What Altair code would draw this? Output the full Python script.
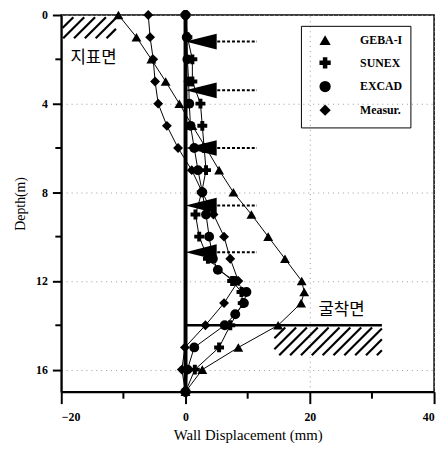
import altair as alt
import pandas as pd

# ---------------- data ----------------
series_names = ["GEBA-I", "SUNEX", "EXCAD", "Measur."]
series_shapes = ["triangle-up", "cross", "circle", "diamond"]

geba_depth = [0, 1, 2, 3, 4, 5, 6, 7, 8, 9, 10, 11, 12, 12.5, 13, 14, 15, 16, 17]
geba_disp = [-10.8, -7.9, -5.5, -3.2, -1.0, 1.1, 3.3, 5.4, 7.7, 10.6, 13.3, 16.0, 18.7, 19.1, 18.6, 14.9, 8.5, 2.7, 0]

sunex_depth = [0, 1, 2, 3, 4, 5, 6, 7, 8, 9, 10, 11, 12, 12.5, 13, 14, 15, 16, 17]
sunex_disp = [0, 0.3, 1.1, 1.1, 2.4, 2.7, 3.0, 3.3, 2.6, 1.6, 2.2, 3.6, 7.5, 9.0, 9.2, 7.2, 5.4, 1.5, 0]

excad_depth = [0, 1, 2, 3, 4, 5, 6, 7, 8, 9, 10, 11, 11.5, 12, 12.5, 13, 13.5, 14, 15, 16, 17]
excad_disp = [0, 0.2, 0.3, 0.5, 0.6, 0.8, 1.4, 2.0, 2.7, 3.3, 3.8, 4.4, 5.2, 8.0, 9.8, 9.4, 8.0, 6.3, 1.4, 0.3, 0]

meas_depth = [0, 1, 2, 3, 4, 5, 6, 7, 8, 9, 10, 11, 12, 13, 14, 15, 16, 17]
meas_disp = [-6.0, -5.7, -5.2, -4.9, -4.4, -3.0, -1.2, 1.0, 2.7, 4.5, 6.2, 7.2, 8.5, 6.2, 3.2, -0.1, -0.6, 0]

strut_depth = [1.2, 3.4, 6.0, 8.6, 10.7]
strut_wedge_x = 2.5
strut_dash_from = 5.1
strut_dash_to = 11.5

wall_top, wall_bottom = 0, 17
excav_depth = 14
excav_right = 31.6

label_text = ["지표면", "굴착면"]
label_x = [-14.8, 25.1]
label_y = [1.95, 13.3]

# hatched zones (x0, x1, depth_top, depth_bottom)
hatch_zones = [(-19.8, -11.2, 0.1, 1.05), (14.3, 31.6, 14.1, 15.35)]

x_ticks = [-20, 0, 20, 40]
x_minor = [-10, 10, 30]
y_ticks = [0, 4, 8, 12, 16]
y_minor = [2, 6, 10, 14]

W, H = 378, 382
X_DOM = [-20, 40]
Y_DOM = [0, 17]
kx = W / (X_DOM[1] - X_DOM[0])
ky = H / (Y_DOM[1] - Y_DOM[0])

# ---------------- tables ----------------
rows = []
for name, ds, xs_ in [("GEBA-I", geba_depth, geba_disp), ("SUNEX", sunex_depth, sunex_disp),
                      ("EXCAD", excad_depth, excad_disp), ("Measur.", meas_depth, meas_disp)]:
    for i, (d, x) in enumerate(zip(ds, xs_)):
        rows.append({"series": name, "depth": d, "disp": x, "idx": i})
df = pd.DataFrame(rows)

struts = pd.DataFrame({"depth": strut_depth, "xw": strut_wedge_x,
                       "x0": strut_dash_from, "x1": strut_dash_to})

hatch = []
spacing = 11.0
for (x0, x1, dt, db) in hatch_zones:
    px0, px1 = x0 * kx, x1 * kx
    hh = (db - dt) * ky
    c = px0 - hh
    while c < px1:
        t0 = max(0.0, px0 - c)
        t1 = min(hh, px1 - c)
        if t1 > t0:
            hatch.append({"xa": (c + t0) / kx, "ya": db - t0 / ky,
                          "xb": (c + t1) / kx, "yb": db - t1 / ky})
        c += spacing
hatch_df = pd.DataFrame(hatch)

labels_df = pd.DataFrame({"t": label_text, "x": label_x, "y": label_y})

xs = alt.Scale(domain=X_DOM, nice=False, zero=False)
ys = alt.Scale(domain=Y_DOM, nice=False, reverse=True)

SERIF = "Liberation Serif"

x_axis = alt.Axis(values=x_ticks, title="Wall Displacement (mm)", tickSize=12, tickWidth=2,
                  domainWidth=2, domainColor="black", tickColor="black",
                  labelFont=SERIF, labelFontSize=12, labelFontWeight="bold", labelPadding=8,
                  labelColor="black", titleColor="black",
                  titleFont=SERIF, titleFontSize=15, titleFontWeight="normal", titlePadding=5,
                  grid=True, gridDash=[1, 4], gridColor="#999999", gridWidth=1)
y_axis = alt.Axis(values=y_ticks, title="Depth(m)", tickSize=9, tickWidth=2,
                  domainWidth=2, domainColor="black", tickColor="black",
                  labelFont=SERIF, labelFontSize=12, labelFontWeight="bold", labelPadding=5,
                  labelColor="black", titleColor="black",
                  titleFont=SERIF, titleFontSize=14, titleFontWeight="normal", titlePadding=8,
                  grid=True, gridDash=[1, 4], gridColor="#999999", gridWidth=1)


def X(f):
    return alt.X(f, scale=xs, axis=x_axis)


def Y(f):
    return alt.Y(f, scale=ys, axis=y_axis)


hatch_layer = alt.Chart(hatch_df).mark_rule(color="black", strokeWidth=2.2).encode(
    x=X("xa:Q"), x2="xb:Q", y=Y("ya:Q"), y2="yb:Q")

wall = alt.Chart(pd.DataFrame({"x": [0], "y0": [wall_top], "y1": [wall_bottom]})).mark_rule(
    color="black", strokeWidth=4).encode(x=X("x:Q"), y=Y("y0:Q"), y2="y1:Q")

excav = alt.Chart(pd.DataFrame({"x0": [0], "x1": [excav_right], "y": [excav_depth]})).mark_rule(
    color="black", strokeWidth=2.5).encode(x=X("x0:Q"), x2="x1:Q", y=Y("y:Q"))

strut_dash = alt.Chart(struts).mark_rule(color="black", strokeWidth=2, strokeDash=[3, 2]).encode(
    x=X("x0:Q"), x2="x1:Q", y=Y("depth:Q"))

strut_wedge = alt.Chart(struts).mark_point(
    shape="M-1,0L1,-0.5L1,0.5Z", filled=True, color="black", opacity=1, size=1000).encode(
    x=X("xw:Q"), y=Y("depth:Q"))

lines = alt.Chart(df).mark_line(color="black", strokeWidth=1).encode(
    x=X("disp:Q"), y=Y("depth:Q"), detail="series:N", order=alt.Order("idx:Q"))

points = alt.Chart(df).mark_point(filled=True, color="black", opacity=1, size=100).encode(
    x=X("disp:Q"), y=Y("depth:Q"),
    shape=alt.Shape("series:N", scale=alt.Scale(domain=series_names, range=series_shapes),
                    legend=alt.Legend(title=None, orient="none", legendX=243, legendY=11,
                                      strokeColor="black", padding=8, symbolSize=130,
                                      symbolOffset=10,
                                      symbolFillColor="black", symbolStrokeColor="black",
                                      labelFont=SERIF, labelFontSize=12, labelFontWeight="bold",
                                      labelColor="black",
                                      labelOffset=29, rowPadding=5)))

texts = alt.Chart(labels_df).mark_text(font="Noto Sans CJK KR", fontSize=17, color="black").encode(
    x=X("x:Q"), y=Y("y:Q"), text="t:N")

ymin_df = pd.DataFrame({"y": y_minor})
y_minor_ticks = alt.Chart(ymin_df).mark_rule(color="black", strokeWidth=2, clip=False).encode(
    y=Y("y:Q"), x=alt.value(-6), x2=alt.value(0))

xmin_df = pd.DataFrame({"x": x_minor})
x_minor_ticks = alt.Chart(xmin_df).mark_rule(color="black", strokeWidth=2, clip=False).encode(
    x=X("x:Q"), y=alt.value(H), y2=alt.value(H + 7))

chart = alt.layer(hatch_layer, strut_dash, lines, points, wall, excav, strut_wedge, texts,
                  y_minor_ticks, x_minor_ticks).properties(
    width=W, height=H, autosize=alt.AutoSizeParams(type="none"),
    padding={"left": 54, "top": 4, "right": 6, "bottom": 60},
    background="white",
).configure_view(stroke="black", strokeWidth=1.5)

chart.save("out.html", embed_options={"renderer": "svg", "actions": False})
